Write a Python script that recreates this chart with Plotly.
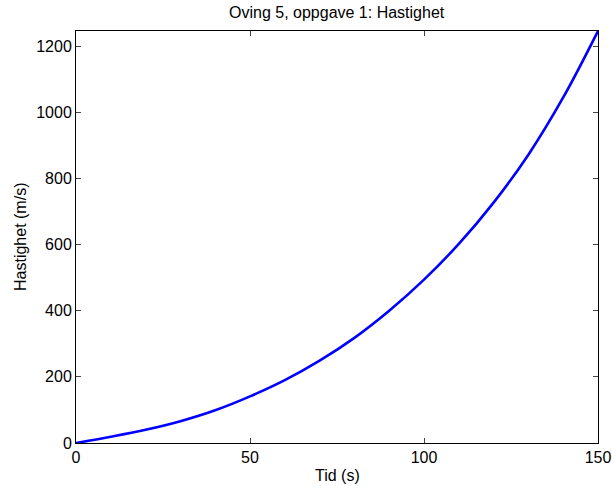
import plotly.graph_objects as go

tid = [0, 10, 20, 30, 40, 50, 60, 70, 80, 90, 100, 110, 120, 130, 140, 150]
hastighet = [0, 19, 40, 66, 99, 141, 190, 249, 318, 400, 494, 602, 727, 872, 1045, 1246]
x_ticks = [0, 50, 100, 150]
y_ticks = [0, 200, 400, 600, 800, 1000, 1200]

fig = go.Figure()
fig.add_trace(go.Scatter(x=tid, y=hastighet, mode="lines",
                         line=dict(color="#0000FF", width=2.6, shape="spline")))

font = dict(family="Liberation Sans, Arial, Helvetica, sans-serif", size=16, color="black")
axis_common = dict(showline=True, linecolor="black", linewidth=1, mirror="ticks",
                   ticks="inside", ticklen=5, tickcolor="#444444", showgrid=False,
                   zeroline=False, tickfont=font, automargin=False)

fig.update_layout(
    width=612, height=486,
    margin=dict(l=76, r=14, t=31, b=43, autoexpand=False),
    paper_bgcolor="white", plot_bgcolor="white",
    showlegend=False, font=font,
)
fig.update_xaxes(range=[0, 150], tickvals=x_ticks, **axis_common)
fig.update_yaxes(range=[0, 1246], tickvals=y_ticks, **axis_common)

fig.add_annotation(text="Oving 5, oppgave 1: Hastighet", xref="paper", yref="paper",
                   x=0.5, y=1, xanchor="center", yanchor="middle", yshift=19,
                   showarrow=False, font=font)
fig.add_annotation(text="Tid (s)", xref="paper", yref="paper",
                   x=0.5, y=0, xanchor="center", yanchor="middle", yshift=-32,
                   showarrow=False, font=font)
fig.add_annotation(text="Hastighet (m/s)", xref="paper", yref="paper",
                   x=0, y=0.5, xanchor="center", yanchor="middle", xshift=-56,
                   textangle=-90, showarrow=False, font=font)

fig.write_html("out.html", config={"displayModeBar": False},
               post_script="document.body.style.margin='0';document.body.style.overflow='hidden';")
